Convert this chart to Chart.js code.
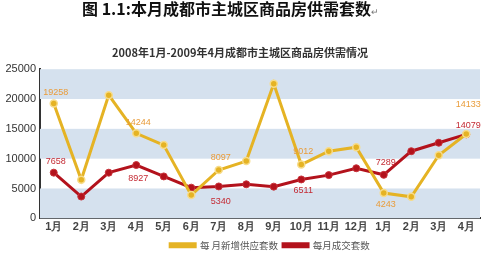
<!DOCTYPE html>
<html>
<head>
<meta charset="utf-8">
<script src="https://cdn.jsdelivr.net/npm/chart.js@4.4.0/dist/chart.umd.min.js"></script>
<style>
  body { margin: 0; background: #fff; }
  #wrap { position: relative; width: 500px; height: 260px; }
  #heading {
    position: absolute; left: 82px; top: -4px;
    font: bold 16px "Noto Sans CJK SC", sans-serif; color: #111;
    white-space: nowrap;
  }
  #heading span { font-size: 9px; color: #777; font-weight: normal; }
  canvas { position: absolute; left: 0; top: 0; }
</style>
</head>
<body>
<div id="wrap">
  <canvas id="chart" width="500" height="260"></canvas>
  <div id="heading">图 1.1:本月成都市主城区商品房供需套数<span>↵</span></div>
</div>
<script>
// Chart data
const months = ["1月", "2月", "3月", "4月", "5月", "6月", "7月", "8月", "9月", "10月", "11月", "12月", "1月", "2月", "3月", "4月"];
const supply = [19258, 6450, 20650, 14244, 12280, 3890, 8097, 9590, 22550, 9012, 11250, 11930, 4243, 3600, 10570, 14133];
const sales = [7658, 3650, 7650, 8927, 7020, 5140, 5340, 5700, 5310, 6511, 7240, 8390, 7289, 11250, 12670, 14079];
const yTicks = [0, 5000, 10000, 15000, 20000, 25000];

// Which points get a value label: [index, pixel offset (neg = above)]
const supplyLabels = [[0, -11], [3, -11], [6, -12], [9, -13], [12, 12], [15, -29]];
const salesLabels = [[0, -11], [3, 13], [6, 15], [9, 11], [12, -12], [15, -9]];

const yellow = "#e5b324";
const red = "#b3121c";

// Alternating light blue bands behind the plot
const bandPlugin = {
  id: "bands",
  afterLayout(chart) {
    // legend sits a bit right of centre in the original
    chart.legend.left += 30;
    chart.legend.right += 30;
  },
  beforeDatasetsDraw(chart) {
    const { ctx, chartArea, scales } = chart;
    const y = scales.y;
    ctx.save();
    ctx.fillStyle = "#d5e1ee";
    for (let i = 0; i < yTicks.length - 1; i += 2) {
      const top = y.getPixelForValue(yTicks[i + 1]);
      const bottom = y.getPixelForValue(yTicks[i]);
      ctx.fillRect(chartArea.left, top, chartArea.right - chartArea.left, bottom - top);
    }
    ctx.restore();
  },
};

// Draw a few value labels next to points
const valueLabelPlugin = {
  id: "valueLabels",
  afterDatasetsDraw(chart) {
    const { ctx } = chart;
    const sets = [
      { ds: 0, list: supplyLabels, color: "#e99c3a" },
      { ds: 1, list: salesLabels, color: "#c42a33" },
    ];
    ctx.save();
    ctx.font = "9px 'Liberation Sans', Arial, sans-serif";
    ctx.textAlign = "center";
    ctx.textBaseline = "middle";
    sets.forEach((s) => {
      const meta = chart.getDatasetMeta(s.ds);
      const values = chart.data.datasets[s.ds].data;
      s.list.forEach(([i, off]) => {
        const pt = meta.data[i];
        ctx.fillStyle = s.color;
        ctx.fillText(String(values[i]), pt.x + 2, pt.y + off);
      });
    });
    ctx.restore();
  },
};

const ctx = document.getElementById("chart").getContext("2d");
new Chart(ctx, {
  type: "line",
  data: {
    labels: months,
    datasets: [
      {
        label: "每 月新增供应套数",
        data: supply,
        borderColor: yellow,
        backgroundColor: yellow,
        borderWidth: 3,
        pointRadius: 3.5,
        pointBackgroundColor: yellow,
        pointBorderColor: "#f7dc8a",
        pointBorderWidth: 1.5,
        tension: 0,
      },
      {
        label: "每月成交套数",
        data: sales,
        borderColor: red,
        backgroundColor: red,
        borderWidth: 3,
        pointRadius: 3.5,
        pointBackgroundColor: red,
        pointBorderColor: "#c8323a",
        pointBorderWidth: 1,
        tension: 0,
      },
    ],
  },
  options: {
    responsive: false,
    animation: false,
    layout: { padding: { left: 0, right: 20, top: 0, bottom: 0 } },
    scales: {
      x: {
        offset: true,
        grid: { display: false, drawTicks: false },
        border: { color: "#333", width: 2 },
        ticks: {
          color: "#444",
          padding: 2,
          maxRotation: 0,
          autoSkip: false,
          font: { family: "'Liberation Sans', Arial, sans-serif", size: 11, weight: "bold" },
        },
      },
      y: {
        min: 0,
        max: 25000,
        afterFit: (scale) => { scale.width = 40; },
        afterBuildTicks: (scale) => { scale.ticks = yTicks.map((v) => ({ value: v })); },
        grid: { display: false, drawTicks: false },
        border: { color: "#333", width: 2 },
        ticks: {
          color: "#333",
          padding: 4,
          callback: (v) => String(v),
          font: { family: "'Liberation Sans', Arial, sans-serif", size: 11 },
        },
      },
    },
    plugins: {
      title: {
        display: true,
        text: "2008年1月-2009年4月成都市主城区商品房供需情况",
        color: "#333",
        font: { family: "'Noto Sans CJK SC', sans-serif", size: 11, weight: "bold" },
        padding: { top: 46, bottom: 10 },
      },
      legend: {
        position: "bottom",
        labels: {
          boxWidth: 25,
          boxHeight: 3,
          color: "#555",
          padding: 5,
          font: { family: "'Noto Sans CJK SC', serif", size: 9.5 },
        },
      },
      tooltip: { enabled: false },
    },
  },
  plugins: [bandPlugin, valueLabelPlugin],
});
</script>
</body>
</html>
